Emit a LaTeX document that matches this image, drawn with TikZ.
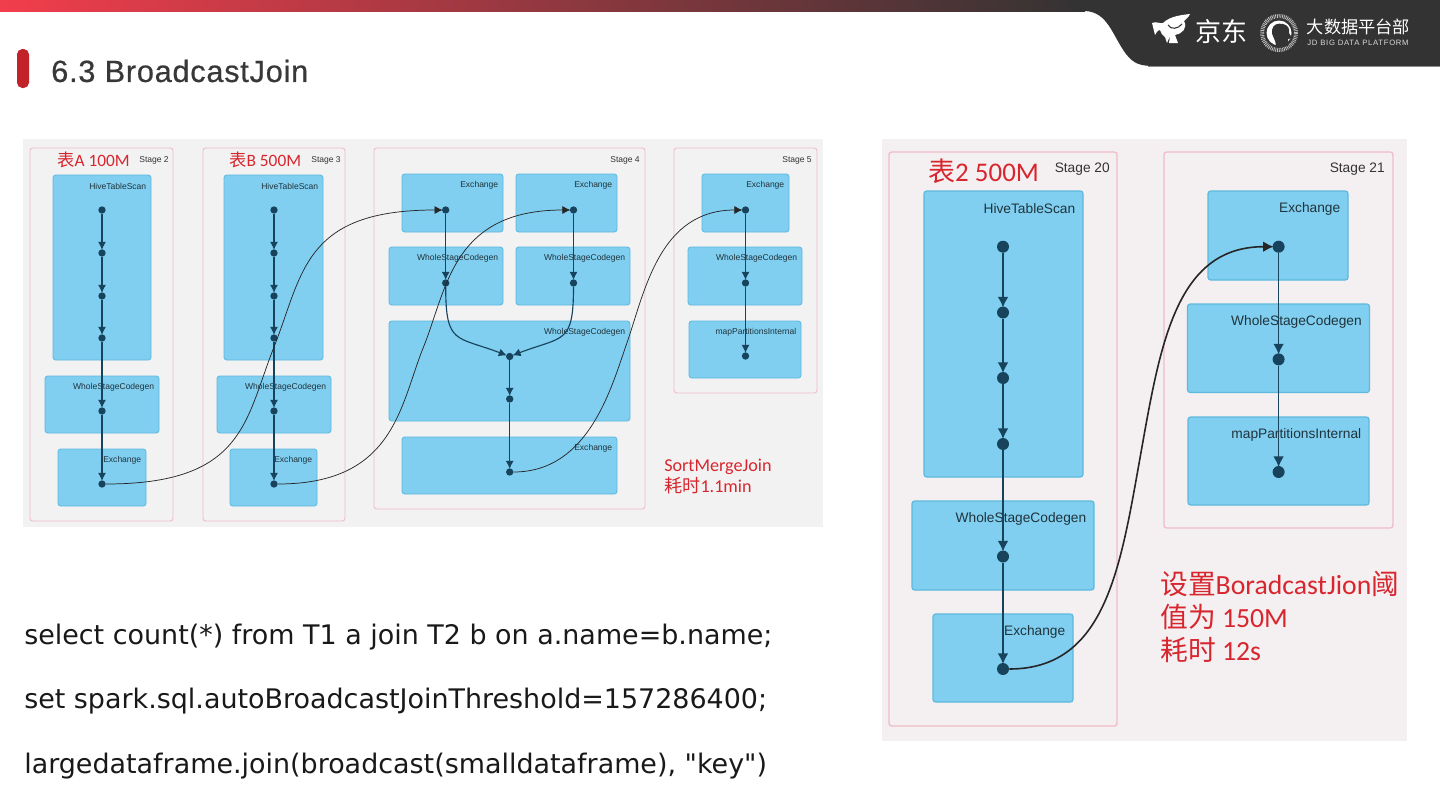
\documentclass[tikz,border=0pt]{standalone}
\usepackage{xcolor}
\usepackage{fontspec}
\usepackage{tikz}
\usetikzlibrary{arrows.meta,positioning,calc,fit}
\setmainfont{Liberation Sans}
\newfontfamily\bodyfont{DejaVu Sans}
\newfontfamily\titlefont[FakeBold=0.6,LetterSpace=2.5]{Liberation Sans}
\newfontfamily\tinyfont[LetterSpace=9]{Liberation Sans}
\newfontfamily\redfont{Carlito}
\newfontfamily\cjk{Noto Sans CJK SC}
\definecolor{opblue}{HTML}{80CEF0}
\definecolor{opedge}{HTML}{5DB9DD}
\definecolor{stagepink}{HTML}{F0BCC8}
\definecolor{linkdark}{HTML}{17435C}
\definecolor{labelred}{HTML}{D8262F}
\definecolor{barred}{HTML}{F23D4C}
\definecolor{bardark}{HTML}{333333}
\definecolor{leftbg}{HTML}{F2F2F2}
\definecolor{rightbg}{HTML}{F4F0F1}
\tikzset{
  stagebox/.style={draw=stagepink,line width=0.7pt,rounded corners=2pt},
  opbox/.style={draw=opedge,fill=opblue,line width=0.6pt,rounded corners=2pt,inner sep=0pt,outer sep=0pt},
  oplabel/.style={inner sep=0pt,anchor=east,text=black!75!opblue},
  stagelabel/.style={inner sep=0pt,anchor=east,text=black!80},
  opdot/.style={circle,fill=linkdark,inner sep=0pt,minimum size=#1},
  opdot/.default=5.5pt,
  flow/.style={draw=linkdark,line width=0.85pt,shorten >=-0.6pt,-{Latex[length=6pt,width=6pt]}},
  bigflow/.style={draw=linkdark,line width=1.2pt,shorten >=-1pt,-{Latex[length=8pt,width=8pt]}},
  cross/.style={draw=black!85,line width=0.55pt,shorten >=-0.6pt,-{Latex[length=6pt,width=6pt]}},
  redlabel/.style={inner sep=0pt,anchor=west,text=labelred}
}
\begin{document}
\begin{tikzpicture}[x=0.75pt,y=-0.75pt,font=\fontsize{6.4pt}{7pt}\selectfont]
  \useasboundingbox (0,0) rectangle (1440,810);
  % top band and logo
  \shade[left color=barred,right color=bardark] (0,0) rectangle (1085,11);
  \fill[bardark] (1070,0)--(1070,11)--(1085,11) .. controls (1108,12) and (1112,35) .. (1126,54) .. controls (1134,64) and (1140,66) .. (1155,66)--(1440,66)--(1440,0)--cycle;
  \draw[black!45,line width=0.7pt] (1148,66)--(1440,66);
  \fill[white] (1152,23) .. controls (1156,21) and (1160,24) .. (1163,23) .. controls (1170,16) and (1182,15) .. (1190,14) .. controls (1188,18) and (1186,19) .. (1184,21) .. controls (1188,28) and (1182,34) .. (1175,35) -- (1178,43) -- (1169,43) -- (1170,36) -- (1167,43) -- (1165,37) .. controls (1162,35) and (1161,33) .. (1160,30) .. controls (1157,30) and (1156,34) .. (1155,35) -- cycle;
  \draw[bardark,line width=0.8pt] (1168,25) .. controls (1171,30) and (1178,29) .. (1182,24);
  \node[inner sep=0pt,text=white,font=\cjk\fontsize{19.5pt}{20pt}\selectfont] (jdname) at (1221,32) {京东};
  \draw[white!75!black,line width=3pt,dash pattern=on 0.6pt off 0.7pt] (1279,33) circle (17);
  \fill[white] (1279,33) circle (12.5);
  \fill[bardark] (1276,46) .. controls (1276,39) and (1271,36) .. (1272,30) .. controls (1273,24) and (1278,23) .. (1283,24) .. controls (1288,25) and (1290,29) .. (1289,33) -- (1292,38) -- (1288,39) -- (1288,46) -- cycle;
  \node[inner sep=0pt,text=white,font=\cjk\fontsize{12.9pt}{13pt}\selectfont] (deptname) at (1358.5,27) {大数据平台部};
  \node[inner sep=0pt,text=white!85!black,font=\tinyfont\fontsize{5.8pt}{6pt}\selectfont] (depten) at (1358,43) {JD BIG DATA PLATFORM};
  % title
  \fill[labelred!90!black,rounded corners=4pt] (17,49) rectangle (29,88);
  \node[inner sep=0pt,anchor=west,text=black!78,font=\titlefont\fontsize{23pt}{24pt}\selectfont] (slidetitle) at (51,71) {6.3 BroadcastJoin};
  % left screenshot
  \fill[leftbg] (23,139) rectangle (823,527);
  \foreach \xa/\ya/\xb/\yb in {30/148/173/521,203/148/345/521,374/148/645/509,674/148/817/393}
    \draw[stagebox] (\xa,\ya) rectangle (\xb,\yb);
  \foreach \name/\xa/\ya/\xb/\yb/\txt in {
    hiveA/53/175/151/360/HiveTableScan,wholeA/45/376/159/433/WholeStageCodegen,exchA/58/449/146/506/Exchange,
    hiveB/224/175/323/360/HiveTableScan,wholeB/217/376/331/433/WholeStageCodegen,exchB/230/449/317/506/Exchange,
    exchC/402/174/503/232/Exchange,exchD/516/174/617/232/Exchange,wholeC/389/247/503/305/WholeStageCodegen,
    wholeD/516/247/630/305/WholeStageCodegen,wholeE/389/321/630/421/WholeStageCodegen,exchE/402/437/617/494/Exchange,
    exchF/702/174/789/232/Exchange,wholeF/688/247/802/305/WholeStageCodegen,mapF/689/321/801/378/mapPartitionsInternal} {
    \node[opbox,fit={(\xa,\ya) (\xb,\yb)}] (\name) {};
    \node[oplabel] (\name txt) at ([shift={(-4.5,11)}]\name.north east) {\txt};
  }
  \node[stagelabel] (stageA) at (169,160) {Stage 2};
  \node[stagelabel] (stageB) at (341,160) {Stage 3};
  \node[stagelabel] (stageC) at (640,160) {Stage 4};
  \node[stagelabel] (stageD) at (812,160) {Stage 5};
  \node[redlabel,font=\redfont\fontsize{13pt}{14pt}\selectfont] (tableA) at (57,160) {{\cjk 表}A 100M};
  \node[redlabel,font=\redfont\fontsize{13pt}{14pt}\selectfont] (tableB) at (229,160) {{\cjk 表}B 500M};
  \node[redlabel,align=left,font=\redfont\fontsize{13.6pt}{15.7pt}\selectfont] (smjnote) at (664,476.5) {SortMergeJoin\\{\cjk 耗时}1.1min};
  % punti e archi
  \foreach \name/\x/\y in {a1/102/210,a2/102/253,a3/102/296,a4/102/338,a5/102/411,a6/102/484,
    b1/274/210,b2/274/253,b3/274/296,b4/274/338,b5/274/411,b6/274/484,
    c1/445.7/210,c2/445.7/283,d1/573.5/210,d2/573.5/283,e1/509.7/356.5,e2/509.7/399,e3/509.7/472,
    f1/745.5/210,f2/745.5/283,f3/745.5/356}
    \node[opdot] (\name) at (\x,\y) {};
  \foreach \p/\q in {a1/a2,a2/a3,a3/a4,a4/a5,a5/a6,b1/b2,b2/b3,b3/b4,b4/b5,b5/b6,c1/c2,d1/d2,e1/e2,e2/e3,f1/f2,f2/f3}
    \draw[flow] (\p)--(\q);
  \draw[flow] (c2) .. controls (445.7,345) and (456,336) .. (e1);
  \draw[flow] (d2) .. controls (573.5,345) and (563,336) .. (e1);
  \coordinate (ac) at (274,347);
  \coordinate (bd) at (423.5,347);
  \coordinate (ef) at (627.6,341);
  \draw[cross] (a6) .. controls (245,484) and (245,420) .. (ac) .. controls (303,274) and (303,210) .. (c1);
  \draw[cross] (b6) .. controls (395,484) and (400,405) .. (bd) .. controls (447,289) and (452,210) .. (d1);
  \draw[cross] (e3) .. controls (590,472) and (612,385) .. (ef) .. controls (645,290) and (660,210) .. (f1);
  % right screenshot
  \fill[rightbg] (882,139) rectangle (1407,741);
  \foreach \xa/\ya/\xb/\yb in {889/152/1117/726,1164/152/1393/528}
    \draw[stagebox,line width=1pt] (\xa,\ya) rectangle (\xb,\yb);
  \foreach \name/\xa/\ya/\xb/\yb/\txt in {
    hiveG/924/191/1083/477/HiveTableScan,wholeG/912/501/1094/590/WholeStageCodegen,exchG/933/614/1073/702/Exchange,
    exchH/1208/191/1348/280/Exchange,wholeH/1187.5/304/1369.5/392.5/WholeStageCodegen,mapH/1188/417/1369/505/mapPartitionsInternal} {
    \node[opbox,line width=0.9pt,fit={(\xa,\ya) (\xb,\yb)}] (\name) {};
    \node[oplabel,font=\fontsize{10.3pt}{11pt}\selectfont] (\name txt) at ([shift={(-7.5,18)}]\name.north east) {\txt};
  }
  \node[stagelabel,font=\fontsize{10.3pt}{11pt}\selectfont] (stageG) at (1110,169) {Stage 20};
  \node[stagelabel,font=\fontsize{10.3pt}{11pt}\selectfont] (stageH) at (1385,169) {Stage 21};
  \node[redlabel,font=\redfont\fontsize{20.2pt}{22pt}\selectfont] (tableG) at (928,171) {{\cjk 表}2 500M};
  \node[redlabel,align=left,font=\redfont\fontsize{20.8pt}{24.7pt}\selectfont] (bjnote) at (1160,617) {{\cjk 设置}BoradcastJion{\cjk 阈}\\{\cjk 值为} 150M\\{\cjk 耗时} 12s};
  \foreach \name/\x/\y in {g1/1003/246.7,g2/1003/312.5,g3/1003/378,g4/1003/444,g5/1003/556.5,g6/1003/669,
    h1/1278.6/246.7,h2/1278.6/359.4,h3/1278.6/472}
    \node[opdot=9pt] (\name) at (\x,\y) {};
  \foreach \p/\q in {g1/g2,g2/g3,g3/g4,g4/g5,g5/g6,h1/h2,h2/h3}
    \draw[bigflow] (\p)--(\q);
  \coordinate (gh) at (1140,458);
  \draw[bigflow,draw=black!85] (g6) .. controls (1105,669) and (1120,570) .. (gh) .. controls (1160,346) and (1175,246.7) .. (h1);
  % query text
  \foreach \name/\y/\txt in {qjoin/637.5/{select count(*) from T1 a join T2 b on a.name=b.name;},
    qset/701.5/{set spark.sql.autoBroadcastJoinThreshold=157286400;},
    qapi/766.5/{largedataframe.join(broadcast(smalldataframe), "key")}}
    \node[inner sep=0pt,anchor=west,text=black!90,font=\bodyfont\fontsize{20.2pt}{22pt}\selectfont] (\name) at (24,\y) {\txt};
\end{tikzpicture}
\end{document}
